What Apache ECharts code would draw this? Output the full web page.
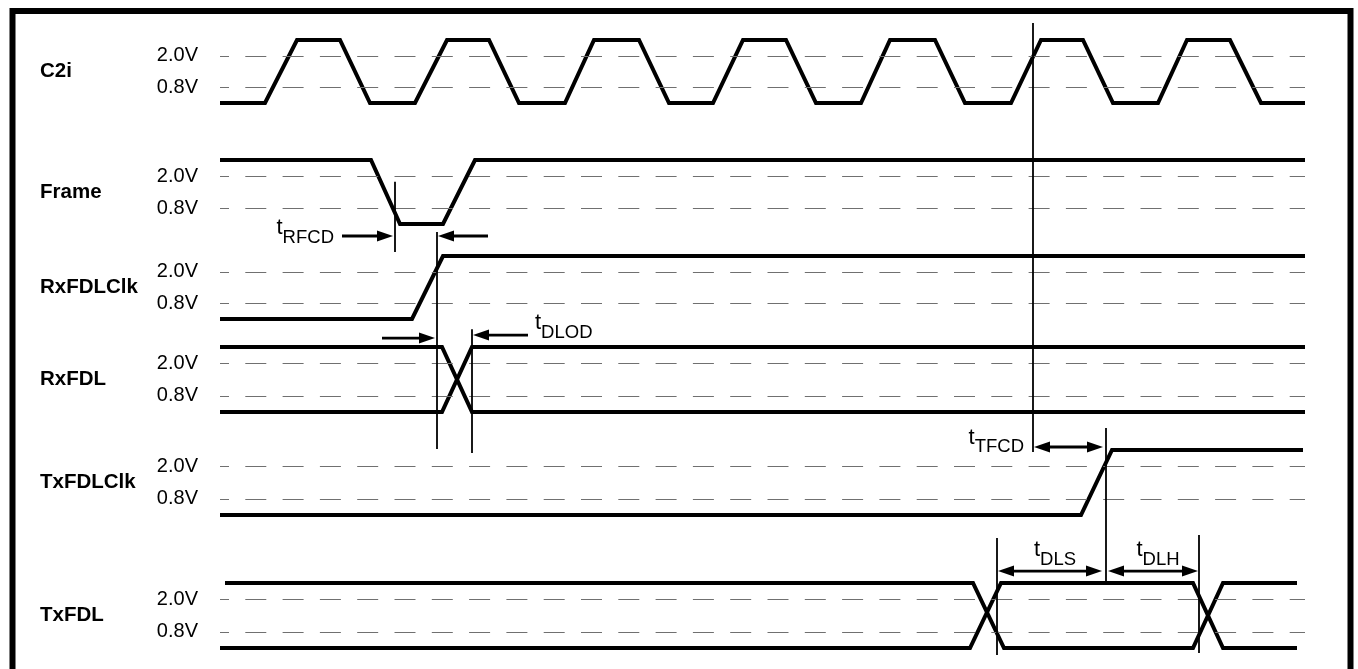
<!DOCTYPE html>
<html>
<head>
<meta charset="utf-8">
<script src="https://cdn.jsdelivr.net/npm/echarts@6/dist/echarts.min.js"></script>
<style>
  html, body { margin: 0; padding: 0; background: #fff; }
  #chart { width: 1358px; height: 669px; }
</style>
</head>
<body>
<div id="chart"></div>
<script>
// time runs 0..tMax (arbitrary units), levels are in volts
const tMax = 1085
const H = 2.6, L = 0.2
const thresholds = [2.0, 0.8]

const signalNames = ['C2i', 'Frame', 'RxFDLClk', 'RxFDL', 'TxFDLClk', 'TxFDL']

const c2i = [[0, L], [45, L], [77, H], [120, H], [150, L], [195, L], [227, H], [269, H], [299, L], [345, L],
  [374, H], [419, H], [449, L], [493, L], [523, H], [566, H], [596, L], [641, L], [670, H], [715, H],
  [745, L], [791, L], [821, H], [863, H], [893, L], [938, L], [967, H], [1010, H], [1041, L], [1085, L]]
const frame = [[0, H], [151, H], [180, L], [223, L], [255, H], [1085, H]]
const rxClk = [[0, L], [192, L], [223, H], [1085, H]]
const rxDataA = [[0, H], [222, H], [252, L], [1085, L]]
const rxDataB = [[0, L], [222, L], [252, H], [1085, H]]
const txClk = [[0, L], [861, L], [892, H], [1083, H]]
const txDataA = [[5, H], [753, H], [784, L], [973, L], [1003, H], [1077, H]]
const txDataB = [[0, L], [750, L], [781, H], [973, H], [1003, L], [1077, L]]

const rowSeries = [[c2i], [frame], [rxClk], [rxDataA, rxDataB], [txClk], [txDataA, txDataB]]

// cursor lines: [time, fromRow, fromVolt, toRow, toVolt]
const cursors = [
  [813, 0, 3.25, 4, 2.53],
  [175, 1, 1.78, 2, 2.75],
  [217, 1, -0.1, 3, -1.17],
  [252, 3, 3.26, 3, -1.31],
  [886, 4, 3.41, 5, 2.6],
  [777, 5, 4.26, 5, -0.06],
  [979, 5, 4.37, 5, 0.02]
]
// arrows: [fromTime, toTime, row, volt, heads]
const arrows = [
  [122, 173, 1, -0.25, 'end'],
  [268, 218, 1, -0.25, 'end'],
  [162, 215, 3, 2.93, 'end'],
  [308, 253, 3, 3.04, 'end'],
  [814, 883, 4, 2.71, 'both'],
  [778, 882, 5, 3.04, 'both'],
  [888, 978, 5, 3.04, 'both']
]
// timing labels: [name, time, row, volt, align]
const timingLabels = [
  ['RFCD', 114, 1, -0.1, 'right'],
  ['DLOD', 315, 3, 3.34, 'left'],
  ['TFCD', 804, 4, 2.9, 'right'],
  ['DLS', 835, 5, 3.67, 'center'],
  ['DLH', 938, 5, 3.67, 'center']
]

// pixel rows of the high / low levels, used only for grid layout
const rowHighPx = [40, 160, 256, 347, 450, 583]
const rowLowPx = [103, 224, 319, 412, 515, 648]
const rowNamePad = [7, 0, 0, 0, 0, 0]

const FONT = "'Liberation Sans', Arial, Helvetica, sans-serif"
const yMax = 2.8

let grids = [], xAxes = [], yAxes = [], series = []
signalNames.forEach((name, i) => {
  let ppv = (rowLowPx[i] - rowHighPx[i]) / (H - L)
  grids.push({
    left: 220, right: 53,
    top: rowHighPx[i] - (yMax - H) * ppv,
    height: yMax * ppv,
    outerBoundsMode: 'none'
  })
  xAxes.push({ gridIndex: i, type: 'value', min: 0, max: tMax, show: false })
  yAxes.push({
    gridIndex: i, type: 'value', min: 0, max: yMax,
    axisLine: { show: false }, axisTick: { show: false },
    axisLabel: { show: false }, splitLine: { show: false },
    name: name, nameLocation: 'middle', nameRotate: 0, nameGap: 180,
    nameTextStyle: {
      align: 'left', fontWeight: 'bold', fontSize: 20.5, color: '#000', fontFamily: FONT,
      padding: [rowNamePad[i], 0, 0, 0]
    }
  })
  // threshold dashes
  series.push({
    type: 'line', xAxisIndex: i, yAxisIndex: i, data: [], z: 1, silent: true,
    markLine: {
      silent: true, symbol: 'none', animation: false,
      lineStyle: { color: '#707070', width: 1, type: [21, 16.3], dashOffset: 12 },
      label: {
        show: true, position: 'start', distance: 22,
        formatter: p => p.value.toFixed(1) + 'V',
        color: '#000', fontSize: 20, fontFamily: FONT
      },
      emphasis: { disabled: true },
      data: thresholds.map(v => ({ yAxis: v }))
    }
  })
  rowSeries[i].forEach(d => {
    series.push({
      type: 'line', xAxisIndex: i, yAxisIndex: i, data: d, z: 3,
      showSymbol: false, clip: false, silent: true,
      lineStyle: { color: '#000', width: 4, join: 'miter' }
    })
  })
})

const chart = echarts.init(document.getElementById('chart'))
chart.setOption({
  animation: false,
  backgroundColor: '#fff',
  grid: grids, xAxis: xAxes, yAxis: yAxes, series: series
})

const toPx = (row, t, v) => chart.convertToPixel({ gridIndex: row }, [t, v])

let graphic = []
// outer frame
graphic.push({
  type: 'rect', silent: true, z: 10,
  shape: { x: 12.5, y: 11, width: 1338, height: 700 },
  style: { fill: 'none', stroke: '#000', lineWidth: 6 }
})
cursors.forEach(c => {
  let a = toPx(c[1], c[0], c[2]), b = toPx(c[3], c[0], c[4])
  graphic.push({
    type: 'line', silent: true, z: 10,
    shape: { x1: a[0], y1: a[1], x2: b[0], y2: b[1] },
    style: { stroke: '#000', lineWidth: 1.8 }
  })
})
function head(tip, dir) {
  let len = 16, hw = 5.5
  return {
    type: 'polygon', silent: true, z: 10,
    shape: { points: [tip, [tip[0] - dir * len, tip[1] - hw], [tip[0] - dir * len, tip[1] + hw]] },
    style: { fill: '#000' }
  }
}
arrows.forEach(ar => {
  let a = toPx(ar[2], ar[0], ar[3]), b = toPx(ar[2], ar[1], ar[3])
  let dir = b[0] > a[0] ? 1 : -1
  let x1 = a[0], x2 = b[0] - dir * 14
  if (ar[4] === 'both') x1 = a[0] + dir * 14
  graphic.push({
    type: 'line', silent: true, z: 10,
    shape: { x1: x1, y1: a[1], x2: x2, y2: b[1] },
    style: { stroke: '#000', lineWidth: 2.8 }
  })
  graphic.push(head(b, dir))
  if (ar[4] === 'both') graphic.push(head(a, -dir))
})
timingLabels.forEach(l => {
  let p = toPx(l[2], l[1], l[3])
  graphic.push({
    type: 'text', silent: true, z: 10,
    x: p[0], y: p[1],
    style: {
      text: '{t|t}{s|' + l[0] + '}',
      align: l[4], verticalAlign: 'middle',
      fill: '#000',
      rich: {
        t: { fontSize: 22, fontFamily: FONT, padding: [0, 0, 8, 0], verticalAlign: 'bottom' },
        s: { fontSize: 18.5, fontFamily: FONT, verticalAlign: 'bottom' }
      }
    }
  })
})
chart.setOption({ graphic: graphic })
</script>
</body>
</html>
